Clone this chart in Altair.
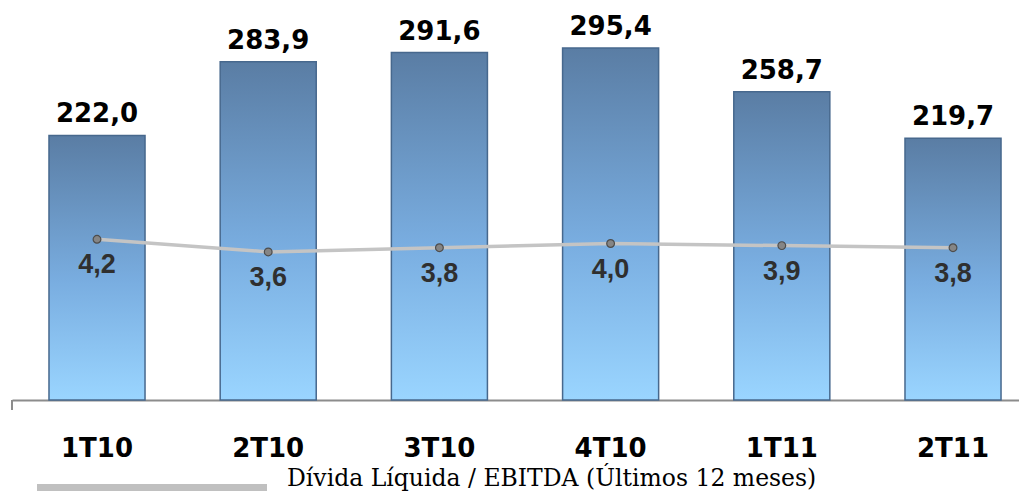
import altair as alt
import pandas as pd

categories = ["1T10", "2T10", "3T10", "4T10", "1T11", "2T11"]
divida_liquida = [222.0, 283.9, 291.6, 295.4, 258.7, 219.7]
divida_ebitda = [4.2, 3.6, 3.8, 4.0, 3.9, 3.8]
legend_label = "Dívida Líquida / EBITDA (Últimos 12 meses)"

df = pd.DataFrame({
    "cat": categories,
    "debt": divida_liquida,
    "ratio": divida_ebitda,
})
df["debt_lbl"] = [f"{v:.1f}".replace(".", ",") for v in divida_liquida]
df["ratio_lbl"] = [f"{v:.1f}".replace(".", ",") for v in divida_ebitda]

PLOT_W = 1007
PLOT_H = 392

xenc = alt.X(
    "cat:N",
    sort=categories,
    title=None,
    scale=alt.Scale(paddingInner=0.439, paddingOuter=0.1605, align=0.673),
    axis=alt.Axis(
        labelAngle=0,
        labelFont="DejaVu Sans",
        labelFontWeight="bold",
        labelFontSize=26,
        labelColor="#000000",
        labelBaseline="alphabetic",
        labelPadding=56,
        ticks=False,
        tickSize=0,
        domainColor="#8c8c8c",
        domainWidth=2,
        grid=False,
    ),
)

ydebt = alt.Y("debt:Q", scale=alt.Scale(domain=[0, 329], nice=False, zero=True), axis=None)
yratio = alt.Y("ratio:Q", scale=alt.Scale(domain=[-3.452, 15.214], nice=False, zero=False), axis=None)

grad = alt.Gradient(
    gradient="linear",
    stops=[
        alt.GradientStop(color="#5a7da4", offset=0),
        alt.GradientStop(color="#79ade0", offset=0.55),
        alt.GradientStop(color="#9ad5ff", offset=1),
    ],
    x1=0, x2=0, y1=0, y2=1,
)

base = alt.Chart(df)

bars = base.mark_bar(fill=grad, stroke="#47688d", strokeWidth=1.5).encode(x=xenc, y=ydebt)
bar_labels = base.mark_text(
    font="DejaVu Sans", fontWeight="bold", fontSize=26, color="#000000",
    baseline="alphabetic", dy=-13,
).encode(x=xenc, y=ydebt, text="debt_lbl:N")

left_tick = base.mark_rule(color="#8c8c8c", strokeWidth=2).encode(
    x=alt.value(0), y=alt.value(PLOT_H), y2=alt.value(PLOT_H + 10)
)

legend_line = base.mark_rule(color="#c0c0c0", strokeWidth=7).encode(
    x=alt.value(25), x2=alt.value(255), y=alt.value(480)
)
legend_text = alt.Chart(pd.DataFrame({"t": [legend_label]})).mark_text(
    font="DejaVu Serif", fontSize=23.5, color="#000000", align="left", baseline="alphabetic"
).encode(x=alt.value(275), y=alt.value(478), text="t:N")

line = base.mark_line(color="#c4c4c4", strokeWidth=3.5).encode(x=xenc, y=yratio)
points = base.mark_circle(size=60, fill="#858585", stroke="#4d4d4d", strokeWidth=1.2, opacity=1).encode(x=xenc, y=yratio)
ratio_labels = base.mark_text(
    font="Liberation Sans", fontWeight="bold", fontSize=27, color="#2f2f2f",
    baseline="middle", dy=26,
).encode(x=xenc, y=yratio, text="ratio_lbl:N")

left_layer = alt.layer(bars, bar_labels, left_tick, legend_line, legend_text)
right_layer = alt.layer(line, points, ratio_labels)

chart = alt.layer(left_layer, right_layer).resolve_scale(y="independent").properties(
    width=PLOT_W,
    height=PLOT_H,
    padding={"left": 4, "top": 0, "right": 0, "bottom": 91},
    autosize=alt.AutoSizeParams(type="none"),
).configure_view(stroke=None)

chart.save("out.html", embed_options={"renderer": "svg", "actions": False})
